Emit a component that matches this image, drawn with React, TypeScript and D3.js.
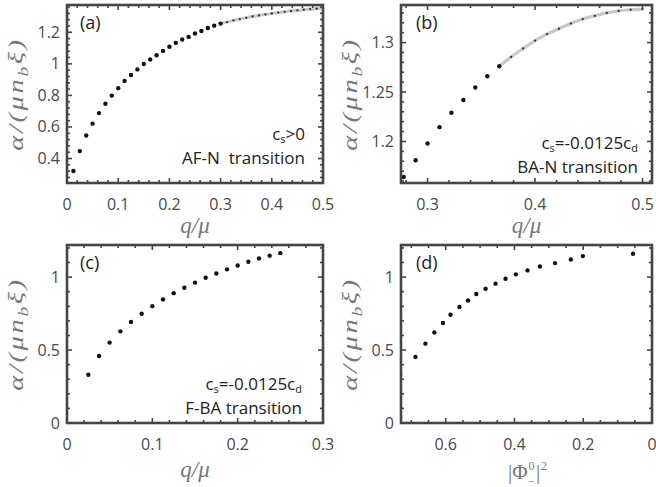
import React from 'react';
import * as d3 from 'd3';

// ---------- data ----------
const qA = [0.0125, 0.025, 0.0375, 0.05, 0.0625, 0.075, 0.0875, 0.1, 0.1125, 0.125, 0.1375, 0.15, 0.1625, 0.175, 0.1875, 0.2, 0.2125, 0.225, 0.2375, 0.25, 0.2625, 0.275, 0.2875, 0.3];
const alphaA = [0.321, 0.447, 0.546, 0.621, 0.688, 0.747, 0.799, 0.846, 0.892, 0.929, 0.965, 0.999, 1.028, 1.055, 1.082, 1.108, 1.133, 1.154, 1.171, 1.192, 1.208, 1.227, 1.242, 1.255];
const qAfit = [0.3, 0.3125, 0.325, 0.3375, 0.35, 0.3625, 0.375, 0.3875, 0.4, 0.4125, 0.425, 0.4375, 0.45, 0.4625, 0.475, 0.4875, 0.5];
const alphaAfit = [1.255, 1.265, 1.275, 1.284, 1.292, 1.3, 1.307, 1.313, 1.319, 1.325, 1.330, 1.335, 1.339, 1.343, 1.347, 1.350, 1.353];

const qB = [0.2778, 0.2889, 0.3, 0.3111, 0.3222, 0.3333, 0.3444, 0.3556, 0.3667];
const alphaB = [1.164, 1.181, 1.198, 1.2145, 1.229, 1.242, 1.2545, 1.266, 1.276];
const qBfit = [0.3667, 0.3778, 0.3889, 0.4, 0.4111, 0.4222, 0.4333, 0.4444, 0.4556, 0.4667, 0.4778, 0.4889, 0.5];
const alphaBfit = [1.276, 1.2855, 1.294, 1.302, 1.3086, 1.314, 1.3194, 1.3238, 1.3271, 1.33, 1.332, 1.3332, 1.3338];

const qC = [0.025, 0.0375, 0.05, 0.0625, 0.075, 0.0875, 0.1, 0.1125, 0.125, 0.1375, 0.15, 0.1625, 0.175, 0.1875, 0.2, 0.2125, 0.225, 0.2375, 0.25];
const alphaC = [0.331, 0.459, 0.551, 0.628, 0.692, 0.749, 0.801, 0.847, 0.890, 0.927, 0.962, 0.996, 1.025, 1.053, 1.080, 1.105, 1.128, 1.147, 1.164];

const phiD = [0.733, 0.688, 0.659, 0.633, 0.608, 0.586, 0.560, 0.535, 0.511, 0.484, 0.455, 0.426, 0.396, 0.362, 0.326, 0.282, 0.236, 0.201, 0.055];
const alphaD = [0.327, 0.452, 0.544, 0.621, 0.685, 0.742, 0.795, 0.840, 0.884, 0.920, 0.955, 0.989, 1.019, 1.046, 1.073, 1.096, 1.121, 1.144, 1.160];

// ---------- ticks ----------
const xTicksA = [0, 0.1, 0.2, 0.3, 0.4, 0.5];
const xLabelsA = ['0', '0.1', '0.2', '0.3', '0.4', '0.5'];
const yTicksA = [0.4, 0.6, 0.8, 1, 1.2];
const yLabelsA = ['0.4', '0.6', '0.8', '1', '1.2'];

const xTicksB = [0.3, 0.4, 0.5];
const xLabelsB = ['0.3', '0.4', '0.5'];
const yTicksB = [1.2, 1.25, 1.3];
const yLabelsB = ['1.2', '1.25', '1.3'];

const xTicksC = [0, 0.1, 0.2, 0.3];
const xLabelsC = ['0', '0.1', '0.2', '0.3'];
const yTicksC = [0, 0.5, 1];
const yLabelsC = ['0', '0.5', '1'];

const xTicksD = [0.6, 0.4, 0.2, 0];
const xLabelsD = ['0.6', '0.4', '0.2', '0'];
const yTicksD = [0, 0.5, 1];
const yLabelsD = ['0', '0.5', '1'];

const FRAME = '#454545';
const SANS = "'Open Sans', 'Noto Sans', sans-serif";
const SERIF = "'Liberation Serif', 'DejaVu Serif', serif";
const TICKCOL = '#4a4a4a';
const LABCOL = '#777';

type Box = { x0: number; x1: number; y0: number; y1: number };

function minorRange(lo: number, hi: number, step: number) {
  const a = Math.min(lo, hi), b = Math.max(lo, hi);
  const out: number[] = [];
  const start = Math.ceil(a / step - 1e-9);
  for (let k = start; k * step <= b + 1e-9; k++) out.push(+(k * step).toFixed(6));
  return out;
}

function Panel(props: {
  id: string; box: Box; xDomain: [number, number]; yDomain: [number, number];
  xTicks: number[]; xLabels: string[]; xMinor: number;
  yTicks: number[]; yLabels: string[]; yMinor: number;
  dx: number[]; dy: number[]; fx?: number[]; fy?: number[];
  tag: string; children?: React.ReactNode; xLabel: React.ReactNode;
}) {
  const { id, box, xDomain, yDomain } = props;
  const xs = d3.scaleLinear().domain(xDomain).range([box.x0, box.x1]);
  const ys = d3.scaleLinear().domain(yDomain).range([box.y1, box.y0]);
  const xm = minorRange(xDomain[0], xDomain[1], props.xMinor).filter(v => Math.abs(xs(v) - box.x0) > 1 && Math.abs(xs(v) - box.x1) > 1);
  const ym = minorRange(yDomain[0], yDomain[1], props.yMinor).filter(v => Math.abs(ys(v) - box.y0) > 1 && Math.abs(ys(v) - box.y1) > 1);
  const isMajorX = (v: number) => props.xTicks.some(t => Math.abs(t - v) < 1e-6);
  const isMajorY = (v: number) => props.yTicks.some(t => Math.abs(t - v) < 1e-6);
  const line = d3.line<number>().x((_, i) => xs(props.fx![i])).y(d => ys(d)).curve(d3.curveCatmullRom);
  const cy = (box.y0 + box.y1) / 2;
  return (
    <g>
      <defs>
        <clipPath id={'clip' + id}>
          <rect x={box.x0} y={box.y0} width={box.x1 - box.x0} height={box.y1 - box.y0} />
        </clipPath>
      </defs>
      <g clipPath={`url(#clip${id})`}>
        {props.fy && (
          <path d={line(props.fy) || ''} fill="none" stroke="#c8c8c8" strokeWidth={3.2} />
        )}
        {props.fy && props.fy.map((v, i) => (
          <circle key={'f' + i} cx={xs(props.fx![i])} cy={ys(v)} r={1.15} fill="#333" />
        ))}
        {props.dy.map((v, i) => (
          <circle key={'d' + i} cx={xs(props.dx[i])} cy={ys(v)} r={2.2} fill="#111" />
        ))}
      </g>
      {xm.map((v, i) => {
        const L = isMajorX(v) ? 5 : 3;
        const px = xs(v);
        return (
          <g key={'xm' + i} stroke={FRAME} strokeWidth={1.6}>
            <line x1={px} x2={px} y1={box.y1} y2={box.y1 - L} />
            <line x1={px} x2={px} y1={box.y0} y2={box.y0 + L} />
          </g>
        );
      })}
      {ym.map((v, i) => {
        const L = isMajorY(v) ? 5 : 3;
        const py = ys(v);
        return (
          <g key={'ym' + i} stroke={FRAME} strokeWidth={1.6}>
            <line x1={box.x0} x2={box.x0 + L} y1={py} y2={py} />
            <line x1={box.x1} x2={box.x1 - L} y1={py} y2={py} />
          </g>
        );
      })}
      <rect x={box.x0} y={box.y0} width={box.x1 - box.x0} height={box.y1 - box.y0} fill="none" stroke={FRAME} strokeWidth={2.6} />
      {props.xTicks.map((v, i) => (
        <text key={'xl' + i} x={xs(v)} y={box.y1 + 27} textAnchor="middle" fontFamily={SANS} fontSize={16} fill={TICKCOL}>{props.xLabels[i]}</text>
      ))}
      {props.yTicks.map((v, i) => (
        <text key={'yl' + i} x={box.x0 - 7} y={ys(v) + 5.5} textAnchor="end" fontFamily={SANS} fontSize={16} fill={TICKCOL}>{props.yLabels[i]}</text>
      ))}
      <text transform={`translate(${box.x0 - 44},${cy}) rotate(-90) scale(1.3,1)`} textAnchor="middle" fontFamily={SERIF} fontStyle="italic" fontSize={22} fill={LABCOL} letterSpacing={2}>
        α/(μn<tspan fontSize={15} dy={5}>b</tspan><tspan dy={-5}>ξ)</tspan>
      </text>
      <text x={box.x0 + (id === 'a' || id === 'c' ? 13 : 15)} y={box.y0 + 24} fontFamily={SANS} fontSize={18} fill="#222">{props.tag}</text>
      {props.xLabel}
      {props.children}
    </g>
  );
}

function Cs(props: { x: number; y: number; rest: string; sub2?: string }) {
  return (
    <text x={props.x} y={props.y} textAnchor="end" fontFamily={SANS} fontSize={17} fill="#222">
      c<tspan fontSize={11} dy={3}>s</tspan><tspan dy={-3}>{props.rest}</tspan>
      {props.sub2 && <tspan fontSize={11} dy={3}>{props.sub2}</tspan>}
    </text>
  );
}

function PhiLabel(props: { x: number; y: number }) {
  const { x, y } = props;
  return (
    <g fontFamily={SERIF} fill={LABCOL}>
      <text x={x} y={y} fontSize={21}>|Φ</text>
      <text x={x + 20.5} y={y - 9} fontSize={12}>0</text>
      <text x={x + 20} y={y + 6} fontSize={12}>−</text>
      <text x={x + 28} y={y} fontSize={21}>|</text>
      <text x={x + 33} y={y - 9} fontSize={12}>2</text>
    </g>
  );
}

export default function App() {
  const A: Box = { x0: 67, x1: 323, y0: 5, y1: 183 };
  const B: Box = { x0: 401, x1: 652, y0: 5, y1: 183 };
  const C: Box = { x0: 67, x1: 323, y0: 245, y1: 423 };
  const D: Box = { x0: 401, x1: 652, y0: 245, y1: 423 };
  const qmu = (box: Box, y: number) => (
    <text x={(box.x0 + box.x1) / 2} y={y} textAnchor="middle" fontFamily={SERIF} fontStyle="italic" fontSize={23} fill={LABCOL}>q/μ</text>
  );
  return (
    <div style={{ position: 'absolute', left: 0, top: 0 }}>
      <svg width={656} height={487} viewBox="0 0 656 487" style={{ display: 'block', background: '#fff' }}>
        <rect x={0} y={0} width={656} height={487} fill="#fff" />
        <Panel id="a" box={A} xDomain={[0, 0.5]} yDomain={[0.245, 1.373]} xTicks={xTicksA} xLabels={xLabelsA} xMinor={0.02}
          yTicks={yTicksA} yLabels={yLabelsA} yMinor={0.04} dx={qA} dy={alphaA} fx={qAfit} fy={alphaAfit} tag="(a)" xLabel={qmu(A, 233)}>
          <Cs x={305} y={140} rest=">0" />
          <text x={305} y={164} textAnchor="end" fontFamily={SANS} fontSize={17} fill="#222" style={{ whiteSpace: 'pre' }}>AF-N  transition</text>
        </Panel>
        <Panel id="b" box={B} xDomain={[0.2753, 0.5088]} yDomain={[1.158, 1.338]} xTicks={xTicksB} xLabels={xLabelsB} xMinor={0.02}
          yTicks={yTicksB} yLabels={yLabelsB} yMinor={0.01} dx={qB} dy={alphaB} fx={qBfit} fy={alphaBfit} tag="(b)" xLabel={qmu(B, 233)}>
          <Cs x={638} y={149} rest="=-0.0125c" sub2="d" />
          <text x={638} y={173} textAnchor="end" fontFamily={SANS} fontSize={17} fill="#222">BA-N transition</text>
        </Panel>
        <Panel id="c" box={C} xDomain={[0, 0.3]} yDomain={[0, 1.22]} xTicks={xTicksC} xLabels={xLabelsC} xMinor={0.02}
          yTicks={yTicksC} yLabels={yLabelsC} yMinor={0.1} dx={qC} dy={alphaC} tag="(c)" xLabel={qmu(C, 477)}>
          <Cs x={302} y={390} rest="=-0.0125c" sub2="d" />
          <text x={302} y={414} textAnchor="end" fontFamily={SANS} fontSize={17} fill="#222">F-BA transition</text>
        </Panel>
        <Panel id="d" box={D} xDomain={[0.73, 0]} yDomain={[0, 1.22]} xTicks={xTicksD} xLabels={xLabelsD} xMinor={0.05}
          yTicks={yTicksD} yLabels={yLabelsD} yMinor={0.1} dx={phiD} dy={alphaD} tag="(d)"
          xLabel={<PhiLabel x={508} y={479} />} />
      </svg>
    </div>
  );
}
